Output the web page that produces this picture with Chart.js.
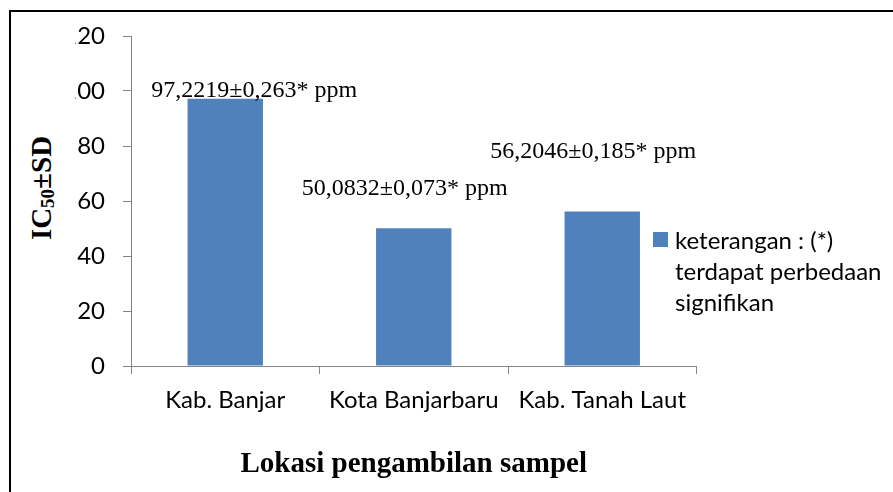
<!DOCTYPE html>
<html>
<head>
<meta charset="utf-8">
<script src="https://cdn.jsdelivr.net/npm/chart.js@4.4.1/dist/chart.umd.min.js"></script>
<style>
    html, body {
        margin: 0;
        padding: 0;
        background: #fff;
    }
    body {
        position: relative;
        width: 893px;
        height: 492px;
        overflow: hidden;
    }
    .frame {
        position: absolute;
        left: 9px;
        top: 10px;
        width: 1000px;
        height: 600px;
        border: 2px solid #000;
    }
    .chart-box {
        position: absolute;
        left: 75px;
        top: 0;
        width: 818px;
        height: 492px;
    }
    .y-title {
        position: absolute;
        left: 42px;
        top: 188px;
        transform: translate(-50%, -50%) rotate(-90deg);
        font: bold 29px "Liberation Serif", "Times New Roman", serif;
        white-space: nowrap;
        color: #000;
    }
    .y-title sub {
        font-size: 19px;
        vertical-align: -3px;
    }
    .legend {
        position: absolute;
        left: 653px;
        top: 224px;
        width: 240px;
    }
    .legend-item {
        position: relative;
        padding-left: 22px;
        font: 24px Lato, "Open Sans", sans-serif;
        line-height: 31px;
        color: #000;
    }
    .legend-color {
        position: absolute;
        left: 0;
        top: 8px;
        width: 15px;
        height: 15px;
    }
</style>
</head>
<body>
<div class="frame"></div>
<div class="y-title">IC<sub>50</sub>±SD</div>
<div class="chart-box"><canvas id="ic50Chart" width="818" height="492"></canvas></div>
<div class="legend" id="ic50Legend"></div>

<script>
// Chart data
const locations = ['Kab. Banjar', 'Kota Banjarbaru', 'Kab. Tanah Laut'];
const ic50Values = [97.2219, 50.0832, 56.2046];
const sdValues = ['0,263', '0,073', '0,185'];
const yTicks = [0, 20, 40, 60, 80, 100, 120];
const seriesLabel = 'keterangan : (*) terdapat perbedaan signifikan';

const barColor = '#4F81BD';
const axisColor = '#868686';

// label text drawn above each bar (placed by hand in the original)
const labelShift = [[29, -2], [-9, -33], [-9, -53]];

const valueLabels = {
    id: 'valueLabels',
    afterDatasetsDraw(chart) {
        const ctx = chart.ctx;
        const meta = chart.getDatasetMeta(0);
        ctx.save();
        ctx.font = '24px "Liberation Serif", "Times New Roman", serif';
        ctx.fillStyle = '#000';
        ctx.textAlign = 'center';
        ctx.textBaseline = 'alphabetic';
        meta.data.forEach((bar, i) => {
            const text = ic50Values[i].toFixed(4).replace('.', ',') + '±' + sdValues[i] + '* ppm';
            ctx.fillText(text, bar.x + labelShift[i][0], bar.y + labelShift[i][1]);
        });
        ctx.restore();
    }
};

const ctx = document.getElementById('ic50Chart').getContext('2d');
const chart = new Chart(ctx, {
    type: 'bar',
    data: {
        labels: locations,
        datasets: [{
            label: seriesLabel,
            data: ic50Values,
            backgroundColor: barColor,
            borderWidth: 0,
            categoryPercentage: 1,
            barPercentage: 0.4
        }]
    },
    options: {
        responsive: false,
        animation: false,
        devicePixelRatio: 1,
        layout: {
            padding: { left: 0, top: 36, right: 196.5, bottom: 0 }
        },
        plugins: {
            legend: { display: false },
            tooltip: { enabled: false }
        },
        scales: {
            x: {
                afterFit: (scale) => { scale.height = 126; },
                grid: {
                    drawOnChartArea: false,
                    drawTicks: true,
                    tickLength: 8,
                    color: axisColor
                },
                border: { color: axisColor, width: 1 },
                ticks: {
                    color: '#000',
                    padding: 12,
                    font: { family: 'Lato', size: 24 }
                },
                title: {
                    display: true,
                    text: 'Lokasi pengambilan sampel',
                    color: '#000',
                    padding: { top: 0, bottom: 10 },
                    font: { family: '"Liberation Serif", "Times New Roman", serif', size: 29, weight: 'bold' }
                }
            },
            y: {
                min: 0,
                max: 120,
                afterFit: (scale) => { scale.width = 56; },
                afterBuildTicks: (scale) => {
                    scale.ticks = yTicks.map(v => ({ value: v }));
                },
                grid: {
                    drawOnChartArea: false,
                    drawTicks: true,
                    tickLength: 8,
                    color: axisColor
                },
                border: { color: axisColor, width: 1 },
                ticks: {
                    color: '#000',
                    padding: 18,
                    font: { family: 'Lato', size: 24 }
                }
            }
        }
    },
    plugins: [valueLabels]
});

// Custom legend
const legendContainer = document.getElementById('ic50Legend');
legendContainer.innerHTML = chart.data.datasets.map(ds => `
    <div class="legend-item">
        <div class="legend-color" style="background: ${ds.backgroundColor}"></div>
        <span>${ds.label}</span>
    </div>
`).join('');
</script>
</body>
</html>
